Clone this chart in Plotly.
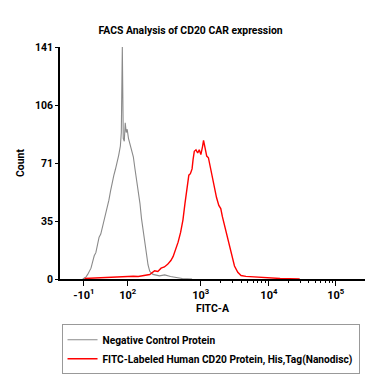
import plotly.graph_objects as go
import math

# ---- data (display position on the biexponential FITC-A axis, count) ----
gray_x = [1.294, 1.343, 1.367, 1.391, 1.416, 1.439, 1.464, 1.488, 1.512, 1.536,
          1.561, 1.584, 1.609, 1.633, 1.657, 1.681, 1.706, 1.729, 1.754, 1.778,
          1.801, 1.826, 1.851, 1.865, 1.880, 1.894, 1.909, 1.923, 1.938, 1.952,
          1.971, 1.996, 2.019, 2.043, 2.068, 2.091, 2.116, 2.141, 2.164, 2.188,
          2.213, 2.236, 2.261, 2.286, 2.333, 2.430, 2.507, 2.594, 2.667, 2.768, 2.913]
gray_y = [0.0, 1.3, 2.8, 4.7, 6.6, 10.3, 14.1, 16.0, 20.7, 25.4,
          27.3, 31.0, 34.8, 40.4, 44.2, 47.9, 53.6, 59.2, 63.0, 66.7,
          70.5, 75.2, 80.8, 89.0, 141.0, 85.5, 83.7, 95.0, 89.0, 91.0,
          85.5, 81.8, 79.0, 74.3, 66.7, 60.2, 53.6, 46.0, 36.7, 29.1,
          21.6, 14.1, 8.5, 4.7, 2.8, 1.9, 2.5, 1.5, 0.8, 0.3, 0.0]

red_x = [1.319, 1.464, 1.609, 1.754, 1.899, 2.043, 2.116, 2.188, 2.286, 2.358,
         2.406, 2.454, 2.503, 2.551, 2.599, 2.633, 2.671, 2.706, 2.743, 2.778,
         2.807, 2.830, 2.851, 2.865, 2.888, 2.913, 2.928, 2.946, 2.971, 2.996,
         3.019, 3.043, 3.068, 3.083, 3.106, 3.130, 3.155, 3.178, 3.203, 3.228,
         3.251, 3.275, 3.309, 3.338, 3.362, 3.396, 3.430, 3.468, 3.503, 3.541,
         3.590, 3.638, 3.710, 3.830, 4.025, 4.217, 4.507]
red_y = [0.3, 0.6, 0.8, 1.0, 1.3, 1.7, 1.5, 2.1, 2.7, 5.0,
         4.6, 6.6, 7.3, 8.9, 11.2, 13.7, 17.6, 22.4, 28.3, 36.0,
         45.7, 52.4, 60.2, 63.1, 64.0, 66.9, 72.7, 77.6, 78.5, 76.6,
         78.5, 75.6, 80.5, 84.3, 79.5, 74.7, 73.7, 68.9, 63.1, 58.2,
         55.3, 49.5, 44.7, 42.8, 37.9, 32.1, 26.3, 18.6, 12.8, 7.9,
         4.1, 2.1, 1.6, 1.2, 0.6, 0.3, 0.0]

series_names = ["Negative Control Protein",
                "FITC-Labeled Human CD20 Protein, His,Tag(Nanodisc)"]

x_tick_pos = [1.31, 1.96, 3.04, 4.05, 5.04]
x_tick_text = ["-10<sup>1</sup>", "10<sup>2</sup>", "10<sup>3</sup>",
               "10<sup>4</sup>", "10<sup>5</sup>"]
y_tick_pos = [0, 35.25, 70.5, 105.75, 141]
y_tick_text = ["0", "35", "71", "106", "141"]

FONT = "Roboto"


def b(s):
    return "<b>" + s + "</b>"


fig = go.Figure()
fig.add_trace(go.Scatter(x=gray_x, y=gray_y, mode="lines", name=b(series_names[0]),
                         line=dict(color="#8a8a8a", width=1.1)))
fig.add_trace(go.Scatter(x=red_x, y=red_y, mode="lines", name=b(series_names[1]),
                         line=dict(color="#ff0000", width=1.4)))

minor_vals = []
for d in (3, 4):
    for k in range(2, 10):
        minor_vals.append(d + 0.04 + math.log10(k))

fig.update_layout(
    width=378, height=378,
    margin=dict(l=45, r=21, t=39, b=96),
    paper_bgcolor="white", plot_bgcolor="white",
    font=dict(family=FONT, size=10, color="black"),
    title=dict(text=b("FACS Analysis of CD20 CAR expression"),
               font=dict(family=FONT, size=10.4),
               x=0.483, xanchor="center", xref="container",
               y=1 - 22.7 / 378, yanchor="middle", yref="container"),
    showlegend=True,
    legend=dict(x=0.005, y=-0.195, xanchor="left", yanchor="top",
                bordercolor="#999999", borderwidth=1,
                font=dict(family=FONT, size=10.2),
                itemwidth=30, tracegroupgap=0),
    xaxis=dict(range=[0.957, 5.474], showgrid=False, zeroline=False,
               showline=True, linecolor="black", linewidth=1.5,
               ticks="outside", ticklen=5, tickcolor="black",
               tickvals=x_tick_pos, ticktext=[b(t) for t in x_tick_text],
               tickfont=dict(family=FONT, size=11),
               minor=dict(tickvals=minor_vals, ticks="outside", ticklen=2,
                          tickcolor="black"),
               title=dict(text=b("FITC-A"), standoff=2,
                          font=dict(family=FONT, size=10.5))),
    yaxis=dict(range=[0, 141], showgrid=False, zeroline=False,
               showline=True, linecolor="black", linewidth=1.5,
               ticks="outside", ticklen=3, tickcolor="black",
               tickvals=y_tick_pos, ticktext=[b(t) for t in y_tick_text],
               tickfont=dict(family=FONT, size=10.5),
               title=dict(text=b("Count"), standoff=8,
                          font=dict(family=FONT, size=10.5))),
)

fig.write_html("out.html")
